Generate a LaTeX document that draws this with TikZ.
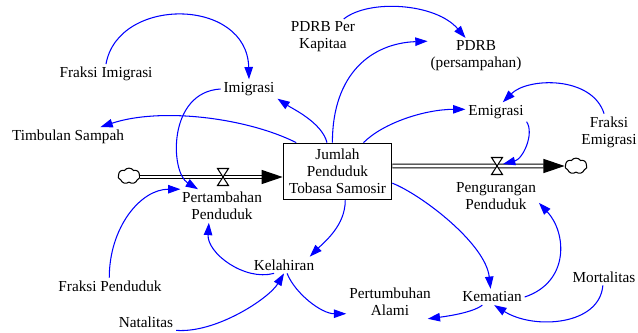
\documentclass[tikz,border=0pt]{standalone}
\usepackage{fontspec}
\setmainfont{Liberation Serif}
\usetikzlibrary{arrows.meta,shapes.symbols}

\tikzset{
  var/.style={font=\fontsize{8.7}{9.6}\selectfont,align=center,inner sep=1.5pt},
  stock/.style={var,draw,line width=0.6pt,minimum width=61.8pt,minimum height=32.3pt,inner sep=1pt},
  lnk/.style={blue,line width=0.6pt,-{Triangle[length=7pt,width=4.8pt]}},
  pipe/.style={double,line width=0.6pt,double distance=1.6pt,-{Triangle[length=12pt,width=8pt]}},
  sink/.style={cloud,draw,fill=white,cloud puffs=7,cloud puff arc=110,minimum width=12.5pt,minimum height=9pt,inner sep=0pt,line width=0.6pt}
}

\begin{document}
\begin{tikzpicture}[x=0.02cm,y=-0.02cm]
\useasboundingbox (0,0) rectangle (638,332);
% katup aliran (jam pasir), #1 = titik pusat
\newcommand{\flowvalve}[1]{
  \filldraw[fill=white,line width=0.6pt,shift={(#1)}] (-5.5,-8.5) -- (5.5,-8.5) -- (-5.5,8.5) -- (5.5,8.5) -- cycle;
}
% ---------- stok dan variabel ----------
\node[stock] (jp) at (337.5,171.5) {Jumlah\\Penduduk\\Tobasa Samosir};
\node[var] (fimi) at (106,74) {Fraksi Imigrasi};
\node[var] (imi) at (249,89) {Imigrasi};
\node[var] (timb) at (68,137) {Timbulan Sampah};
\node[var] (pkap) at (323,37) {PDRB Per\\Kapitaa};
\node[var] (pdrb) at (476,56) {PDRB\\(persampahan)};
\node[var] (emi) at (496,112) {Emigrasi};
\node[var] (femi) at (609,132) {Fraksi\\Emigrasi};
\node[var] (pert) at (222,206) {Pertambahan\\Penduduk};
\node[var] (peng) at (496,196) {Pengurangan\\Penduduk};
\node[var] (kel) at (284,265) {Kelahiran};
\node[var] (fpen) at (110,286) {Fraksi Penduduk};
\node[var] (nat) at (146,322) {Natalitas};
\node[var] (palam) at (390,302) {Pertumbuhan\\Alami};
\node[var] (kem) at (492,297) {Kematian};
\node[var] (mort) at (604,277) {Mortalitas};
% ---------- aliran masuk / keluar ----------
\node[sink] (awan1) at (129,176) {};
\node[sink] (awan2) at (576,166) {};
\coordinate (vin) at (223,177);
\coordinate (vout) at (497,166);
\coordinate (voutR) at (503,164);
\draw[pipe] (awan1.east |- vin) -- (jp.west |- vin);
\draw[pipe] (jp.east |- vout) -- (awan2.west);
\flowvalve{vin}
\flowvalve{vout}
% ---------- panah informasi ----------
\draw[lnk] (fimi.north) .. controls +(12,-68) and +(-2,-82) .. (imi.north);
\draw[lnk] (imi.west) .. controls +(-53,3) and +(-28,-17) .. (pert.145);
\draw[lnk] (jp.110) .. controls +(-5,-20) and +(15,10) .. (imi.south east);
\draw[lnk] (jp.145) .. controls +(-50,-25) and +(60,-20) .. (timb.17);
\draw[lnk] (jp.100) .. controls +(0,-70) and +(-55,2) .. (pdrb.163);
\draw[lnk] (pkap.41) .. controls +(25,-20) and +(-30,-35) .. (pdrb.120);
\draw[lnk] (jp.48) .. controls +(20,-20) and +(-40,0) .. (emi.175);
\draw[lnk] (emi.south east) .. controls +(8,12) and +(20,-5) .. (voutR);
\draw[lnk] (femi.105) .. controls +(-12,-38) and +(25,-25) .. (emi.55);
\draw[lnk] (jp.285) .. controls +(0,25) and +(15,-15) .. (kel.18);
\draw[lnk] (kel.220) .. controls +(-30,8) and +(-2,30) .. (pert.232);
\draw[lnk] (fpen.95) .. controls +(0,-50) and +(-40,0) .. (pert.158);
\draw[lnk] (nat.south east) .. controls +(40,3) and +(-15,25) .. (kel.south);
\draw[lnk] (kel.290) .. controls +(8,20) and +(-25,0) .. (palam.195);
\draw[lnk] (jp.348) .. controls +(30,12) and +(-5,-45) .. (kem.100);
\draw[lnk] (kem.220) .. controls +(-10,8) and +(15,-2) .. (palam.336);
\draw[lnk] (kem.east) .. controls +(45,-15) and +(28,30) .. (peng.351);
\draw[lnk] (mort.262) .. controls +(-3,40) and +(40,25) .. (kem.285);
\end{tikzpicture}
\end{document}
